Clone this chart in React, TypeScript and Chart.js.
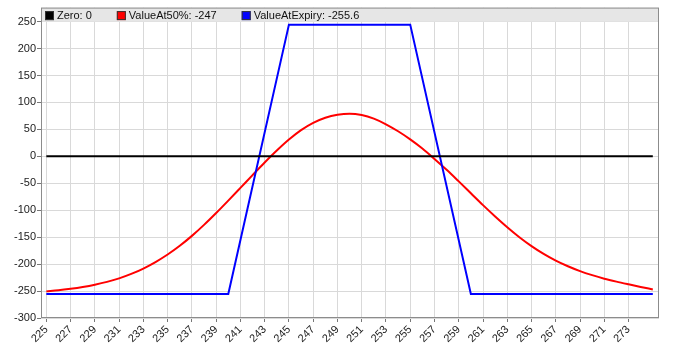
import React, { useEffect, useRef } from "react";
import { Chart, registerables } from "chart.js";

Chart.register(...registerables);

const strikeX = [
  225, 226, 227, 228, 229, 230, 231, 232, 233, 234, 235, 236, 237, 238, 239, 240, 241, 242, 243, 244,
  245, 246, 247, 248, 249, 250, 251, 252, 253, 254, 255, 256, 257, 258, 259, 260, 261, 262, 263, 264,
  265, 266, 267, 268, 269, 270, 271, 272, 273, 274, 275,
];
const valueAt50 = [
  -250.6, -248.6, -245.8, -242.4, -238.2, -233, -226.4, -218.2, -208.2, -196.2, -182.2, -166, -147.6,
  -127.2, -105.2, -82.2, -58.6, -34.8, -11.4, 10.8, 31.2, 48.7, 62.2, 71.7, 77.2, 79.2, 76.7, 70, 59.5,
  46.5, 31.5, 14.5, -4.8, -25, -46.5, -68.5, -90.5, -111.5, -131.5, -150, -166.5, -181, -193.5, -204,
  -213, -220.5, -227, -232.5, -237.5, -242.3, -247,
];
const expiryX = [225, 240, 245, 255, 260, 275];
const valueAtExpiry = [-255.6, -255.6, 244.4, 244.4, -255.6, -255.6];
const zeroX = [225, 275];
const zeroValues = [0, 0];

const xTicks = [
  225, 227, 229, 231, 233, 235, 237, 239, 241, 243, 245, 247, 249, 251, 253, 255, 257, 259, 261, 263,
  265, 267, 269, 271, 273,
];
const yTicks = [-300, -250, -200, -150, -100, -50, 0, 50, 100, 150, 200, 250];

const seriesNames = ["Zero", "ValueAt50%", "ValueAtExpiry"];
const seriesColors = ["#000000", "#ff0000", "#0000ff"];

const FONT = "'Liberation Sans', Arial, sans-serif";

const toPoints = (xs: number[], ys: number[]) => xs.map((x, i) => ({ x, y: ys[i] }));

const legendBand = {
  id: "legendBand",
  afterDatasetsDraw(chart: any) {
    const { ctx, chartArea } = chart;
    const w = chartArea.right - chartArea.left;
    const h = chartArea.bottom - chartArea.top;
    ctx.save();
    ctx.fillStyle = "#e6e6e6";
    ctx.fillRect(chartArea.left, chartArea.top, w, 14);
    ctx.font = `11px ${FONT}`;
    ctx.textBaseline = "middle";
    ctx.textAlign = "left";
    let x = chartArea.left + 4;
    const cy = chartArea.top + 7.5;
    chart.data.datasets.forEach((ds: any, i: number) => {
      const last = ds.data[ds.data.length - 1].y;
      const label = `${seriesNames[i]}: ${last}`;
      ctx.fillStyle = seriesColors[i];
      ctx.fillRect(x, cy - 4, 9, 9);
      ctx.strokeStyle = "#333";
      ctx.lineWidth = 1;
      ctx.strokeRect(x + 0.5, cy - 3.5, 8, 8);
      ctx.fillStyle = "#111";
      ctx.fillText(label, x + 12, cy + 0.5);
      x += 12 + ctx.measureText(label).width + 25;
    });
    ctx.strokeStyle = "#8c8c8c";
    ctx.lineWidth = 1;
    ctx.strokeRect(chartArea.left + 0.5, chartArea.top + 0.5, w - 1, h - 1);
    ctx.restore();
  },
};

export default function App() {
  const ref = useRef<HTMLCanvasElement | null>(null);
  useEffect(() => {
    if (!ref.current) return;
    const chart = new Chart(ref.current, {
      type: "line",
      data: {
        datasets: [
          {
            label: seriesNames[0],
            data: toPoints(zeroX, zeroValues),
            borderColor: seriesColors[0],
            backgroundColor: seriesColors[0],
            borderWidth: 2,
            pointRadius: 0,
            order: 0,
          },
          {
            label: seriesNames[1],
            data: toPoints(strikeX, valueAt50),
            borderColor: seriesColors[1],
            backgroundColor: seriesColors[1],
            borderWidth: 2,
            pointRadius: 0,
            cubicInterpolationMode: "monotone",
            order: 2,
          },
          {
            label: seriesNames[2],
            data: toPoints(expiryX, valueAtExpiry),
            borderColor: seriesColors[2],
            backgroundColor: seriesColors[2],
            borderWidth: 2,
            pointRadius: 0,
            order: 1,
          },
        ],
      },
      options: {
        responsive: false,
        animation: false,
        events: [],
        layout: { padding: { top: 4, right: 40, left: 0, bottom: 0 } },
        plugins: { legend: { display: false }, tooltip: { enabled: false } },
        scales: {
          x: {
            type: "linear",
            min: 224.56,
            max: 275.51,
            afterBuildTicks: (s: any) => {
              s.ticks = xTicks.map((v) => ({ value: v }));
            },
            afterFit: (s: any) => {
              s.height = 38;
            },
            grid: { color: "#d9d9d9", tickLength: 4, tickColor: "#777", lineWidth: 1 },
            border: { display: false },
            ticks: {
              autoSkip: false,
              minRotation: 45,
              maxRotation: 45,
              padding: 1,
              color: "#222",
              font: { size: 11, family: FONT },
              callback: (v: any) => String(v),
            },
          },
          y: {
            type: "linear",
            min: -300,
            max: 276,
            afterBuildTicks: (s: any) => {
              s.ticks = yTicks.map((v) => ({ value: v }));
            },
            afterFit: (s: any) => {
              s.width = 41;
            },
            grid: { color: "#d9d9d9", tickLength: 4, tickColor: "#777", lineWidth: 1 },
            border: { display: false },
            ticks: {
              padding: 1,
              color: "#222",
              font: { size: 11, family: FONT },
              callback: (v: any) => String(v),
            },
          },
        },
      },
      plugins: [legendBand],
    } as any);
    return () => chart.destroy();
  }, []);
  return (
    <div style={{ position: "fixed", left: 0, top: 0, width: 699, height: 356, background: "#fff" }}>
      <canvas ref={ref} width={699} height={356} style={{ width: 699, height: 356, display: "block" }} />
    </div>
  );
}
